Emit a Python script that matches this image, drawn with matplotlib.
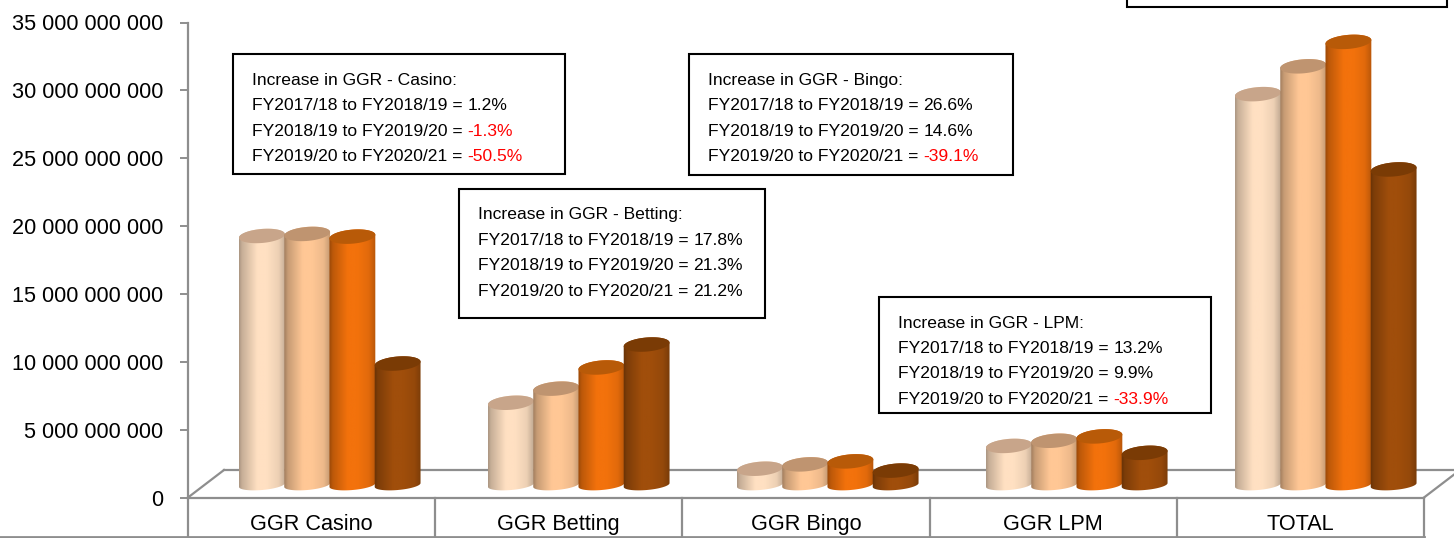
import numpy as np
import matplotlib
matplotlib.use("Agg")
from matplotlib import pyplot as plt
from matplotlib.patches import PathPatch, Rectangle
from matplotlib.path import Path
from matplotlib.transforms import Affine2D

plt.rcParams['font.family'] = ['Liberation Sans', 'DejaVu Sans']
tick_size = 15.6
note_size = 12.6

# Values (rand)
categories = ['GGR Casino', 'GGR Betting', 'GGR Bingo', 'GGR LPM', 'TOTAL']
fy2017_18 = [18.35e9, 6.06e9, 1.2e9, 2.88e9, 28.8e9]
fy2018_19 = [18.5e9, 7.1e9, 1.52e9, 3.26e9, 30.85e9]
fy2019_20 = [18.3e9, 8.66e9, 1.74e9, 3.58e9, 32.65e9]
fy2020_21 = [8.95e9, 10.35e9, 1.06e9, 2.37e9, 23.25e9]

y_ticks = [0, 5e9, 10e9, 15e9, 20e9, 25e9, 30e9, 35e9]
y_labels = ['0', '5 000 000 000', '10 000 000 000', '15 000 000 000', '20 000 000 000',
            '25 000 000 000', '30 000 000 000', '35 000 000 000']

periods = ['FY2017/18 to FY2018/19 = ', 'FY2018/19 to FY2019/20 = ', 'FY2019/20 to FY2020/21 = ']
casino_pct = ['1.2%', '-1.3%', '-50.5%']
betting_pct = ['17.8%', '21.3%', '21.2%']
bingo_pct = ['26.6%', '14.6%', '-39.1%']
lpm_pct = ['13.2%', '9.9%', '-33.9%']

# Styles
series_colors = ['#FFE0C2', '#FFC795', '#F3720C', '#A04E0B']
cap_colors = ['#C8A58A', '#BF9470', '#B85A08', '#7A3B05']
grey = '#8E8E8E'

W, H = 1454, 538
LEFT, RIGHT, Y0, Y35 = 188, 1424, 497.5, 22.5

fig = plt.figure(figsize=(W / 100, H / 100), dpi=100)
ax = fig.add_axes([LEFT / W, 1 - Y0 / H, (RIGHT - LEFT) / W, (Y0 - Y35) / H])
ax.patch.set_alpha(0)

px_x = (RIGHT - LEFT) / len(categories)  # pixels per category
px_y = (Y0 - Y35) / 35e9                 # pixels per rand
pixels = Affine2D().scale(1, -1).translate(0, H)


def ellipse(cx, cy, t, b=7.0):
    # tilted ellipse, offsets worked out in pixels then turned into data units
    a, tilt = 23.0, np.radians(5)
    dx = a * np.cos(t) * np.cos(tilt) - b * np.sin(t) * np.sin(tilt)
    dy = a * np.cos(t) * np.sin(tilt) + b * np.sin(t) * np.cos(tilt)
    return np.column_stack([cx + dx / px_x, cy + dy / px_y])


def cylinder(x, value, color, cap, z):
    base = 12.5 / px_y
    top = base + value
    low = ellipse(x, base, np.linspace(np.pi, 2 * np.pi, 40), b=5.0)
    up = ellipse(x, top, np.linspace(0, np.pi, 40))
    body = np.vstack([low, up, low[:1]])
    clip = PathPatch(Path(body), fc='none', ec='none', transform=ax.transData)
    ax.add_patch(clip)

    # shading across the cylinder
    s = np.linspace(0, 1, 64)
    shade = np.interp(s, [0, 0.08, 0.4, 0.6, 0.85, 1], [0.64, 0.78, 1, 1, 0.93, 0.76])
    rgb = np.array(matplotlib.colors.to_rgb(color))
    img = (shade[:, None] * rgb)[None, :, :]
    half = 23.5 / px_x
    im = ax.imshow(img, extent=[x - half, x + half, 0, top + 10 / px_y], aspect='auto', zorder=z)
    im.set_clip_path(clip)

    ax.add_patch(plt.Polygon(ellipse(x, top, np.linspace(0, 2 * np.pi, 80)), fc=cap, ec='none', zorder=z))


all_series = [fy2017_18, fy2018_19, fy2019_20, fy2020_21]
first_bar, bar_step, group_step = 0.299, 0.183, 1.0073
for i, vals in enumerate(all_series):
    for j, v in enumerate(vals):
        cylinder(first_bar + j * group_step + i * bar_step, v, series_colors[i], cap_colors[i], 3 + i)

ax.set_xlim(0, len(categories))
ax.set_ylim(0, 35e9)

# axes
for name in ['top', 'right']:
    ax.spines[name].set_visible(False)
for name in ['left', 'bottom']:
    ax.spines[name].set_color(grey)
    ax.spines[name].set_linewidth(1.6)
ax.set_yticks(y_ticks, y_labels, fontsize=tick_size, color='black')
ax.tick_params(axis='y', length=6, width=1.4, color=grey, pad=12)
ax.set_xticks(np.arange(len(categories)) + 0.5, categories, fontsize=tick_size, color='black')
ax.tick_params(axis='x', length=0, pad=12)

# floor of the 3d box
depth_x, depth_y = 36 / px_x, 27.5 / px_y
ax.plot([0, depth_x], [0, depth_y], color=grey, lw=1.6, zorder=1, clip_on=False)
ax.plot([depth_x, len(categories) + depth_x], [depth_y, depth_y], color=grey, lw=1.6, zorder=1, clip_on=False)
ax.plot([len(categories), len(categories) + depth_x], [0, depth_y], color=grey, lw=1.6, zorder=1, clip_on=False)

# table lines under the axis
low_y = -(537 - Y0) / px_y
for k in range(len(categories) + 1):
    ax.plot([k, k], [0, low_y], color=grey, lw=1.6, clip_on=False, zorder=1)
ax.plot([-LEFT / px_x, len(categories)], [low_y, low_y], color=grey, lw=2.0, clip_on=False, zorder=1)

# note boxes
renderer = fig.canvas.get_renderer()


def note(x0, y0, x1, y1, title, pct, baselines):
    fig.add_artist(Rectangle((x0, y0), x1 - x0, y1 - y0, fc='white', ec='black', lw=1.5,
                             transform=pixels, zorder=10))
    tx = x0 + 19
    fig.text(tx, baselines[0], title, fontsize=note_size, va='baseline', transform=pixels, zorder=11)
    for k in range(3):
        t = fig.text(tx, baselines[k + 1], periods[k], fontsize=note_size, va='baseline', transform=pixels, zorder=11)
        w = t.get_window_extent(renderer).width
        c = 'red' if pct[k].startswith('-') else 'black'
        fig.text(tx + w, baselines[k + 1], pct[k], fontsize=note_size, color=c, va='baseline', transform=pixels, zorder=11)


note(233, 54, 565, 174, 'Increase in GGR - Casino:', casino_pct, [85, 110.5, 136, 161])
note(459, 189, 765, 318, 'Increase in GGR - Betting:', betting_pct, [219.5, 245, 270.5, 296])
note(689, 54, 1013, 175, 'Increase in GGR - Bingo:', bingo_pct, [85, 110.5, 136, 161])
note(879, 297, 1211, 413, 'Increase in GGR - LPM:', lpm_pct, [327.5, 353, 378.5, 404])

# box running off the top of the picture
fig.add_artist(Rectangle((1127, -10), 320, 17, fc='white', ec='black', lw=1.5, transform=pixels, zorder=10))

fig.savefig('out.png', dpi=100)
